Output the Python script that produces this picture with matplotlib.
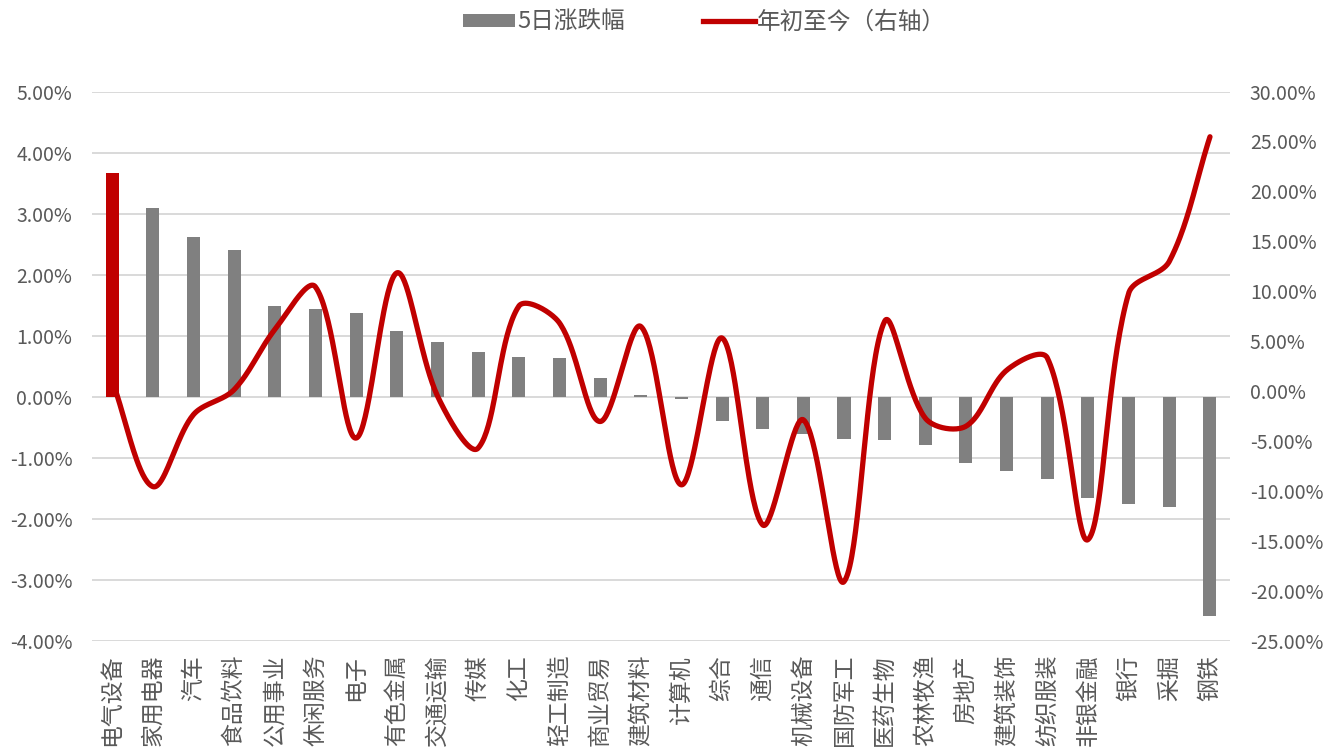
import numpy as np
import matplotlib
matplotlib.use("Agg")
import matplotlib.pyplot as plt
from matplotlib.patches import Patch
from matplotlib.lines import Line2D

plt.rcParams['font.family'] = ['Noto Sans CJK SC', 'DejaVu Sans']

# 申万一级行业
categories = ['电气设备', '家用电器', '汽车', '食品饮料', '公用事业', '休闲服务', '电子',
              '有色金属', '交通运输', '传媒', '化工', '轻工制造', '商业贸易', '建筑材料',
              '计算机', '综合', '通信', '机械设备', '国防军工', '医药生物', '农林牧渔',
              '房地产', '建筑装饰', '纺织服装', '非银金融', '银行', '采掘', '钢铁']

# 5日涨跌幅 (%)
week_change = [3.66, 3.10, 2.61, 2.40, 1.49, 1.44, 1.37, 1.07, 0.90, 0.74, 0.65, 0.63,
               0.31, 0.03, -0.03, -0.40, -0.52, -0.61, -0.69, -0.70, -0.79, -1.09,
               -1.21, -1.35, -1.65, -1.76, -1.80, -3.59]

# 年初至今涨跌幅 (%)
ytd_change = [1.05, -9.54, -2.35, 0.15, 6.16, 10.45, -4.69, 11.84, -0.45, -5.70,
              8.50, 6.85, -3.03, 6.49, -9.37, 5.33, -13.38, -2.86, -19.06, 7.00,
              -2.70, -3.50, 2.10, 3.33, -14.85, 9.80, 13.00, 25.47]

left_ticks = [-4, -3, -2, -1, 0, 1, 2, 3, 4, 5]
right_ticks = [-25, -20, -15, -10, -5, 0, 5, 10, 15, 20, 25, 30]

RED = '#C00000'
GREY = '#808080'
TXT = '#595959'
GRID = '#D9D9D9'


def smooth(ax, xs, ys, steps=40):
    """Bezier smoothing through every point; control arms are weighted by
    the on-screen length of neighbouring segments to avoid overshoot."""
    pts = ax.transData.transform(np.column_stack([xs, ys]))
    n = len(pts)
    d = np.hypot(*np.diff(pts, axis=0).T)
    out_c, in_c = [], []
    for i in range(n):
        prev_p = pts[max(i - 1, 0)]
        next_p = pts[min(i + 1, n - 1)]
        tan = next_p - prev_p
        d0 = d[i - 1] if i > 0 else 0.0
        d1 = d[i] if i < n - 1 else 0.0
        tot = d0 + d1 if d0 + d1 > 0 else 1.0
        out_c.append(pts[i] + tan * d1 / tot / 3.0)
        in_c.append(pts[i] - tan * d0 / tot / 3.0)
    curve = []
    for i in range(n - 1):
        p0, p1 = pts[i], pts[i + 1]
        c1, c2 = out_c[i], in_c[i + 1]
        t = np.linspace(0, 1, steps, endpoint=(i == n - 2))[:, None]
        curve.append((1 - t) ** 3 * p0 + 3 * (1 - t) ** 2 * t * c1
                     + 3 * (1 - t) * t ** 2 * c2 + t ** 3 * p1)
    curve = np.vstack(curve)
    return ax.transData.inverted().transform(curve)


fig = plt.figure(figsize=(13.37, 7.55), dpi=100)
ax = fig.add_axes([0.0686, 0.151, 0.8516, 0.7278])

x = np.arange(len(categories))
colors = [RED] + [GREY] * (len(categories) - 1)
ax.bar(x, week_change, width=0.32, color=colors, zorder=2)

ax.set_xlim(-0.5, len(categories) - 0.5)
ax.set_ylim(-4, 5)
ax.set_yticks(left_ticks)
ax.set_yticklabels([f'{v:.2f}%' for v in left_ticks])
ax.yaxis.grid(True, color=GRID, linewidth=1.4, zorder=0)
ax.set_axisbelow(True)
ax.set_xticks(x)
ax.set_xticklabels(categories, rotation=90, va='top', ha='center', fontsize=16.5, color=TXT)
ax.tick_params(axis='both', length=0)
ax.tick_params(axis='x', pad=10)
ax.tick_params(axis='y', pad=14, labelsize=14, labelcolor=TXT)
for s in ax.spines.values():
    s.set_visible(False)

ax2 = ax.twinx()
ax2.set_xlim(-0.5, len(categories) - 0.5)
ax2.set_ylim(-25, 30)
curve = smooth(ax2, x, ytd_change)
ax2.plot(curve[:, 0], curve[:, 1], color=RED, linewidth=3.8, solid_capstyle='round', zorder=3)
ax2.set_ylim(-25, 30)
ax2.set_yticks(right_ticks)
ax2.set_yticklabels([f'{v:.2f}%' for v in right_ticks])
ax2.tick_params(axis='y', length=0, pad=14, labelsize=14, labelcolor=TXT)
for s in ax2.spines.values():
    s.set_visible(False)

handles = [Patch(facecolor=GREY, edgecolor='none'),
           Line2D([0], [0], color=RED, linewidth=3.8)]
fig.legend(handles, ['5日涨跌幅', '年初至今（右轴）'], loc='upper center',
           bbox_to_anchor=(0.527, 1.014), ncol=2, frameon=False, fontsize=17,
           handlelength=2.2, handleheight=0.5, handletextpad=0.1, columnspacing=3.3,
           labelcolor=TXT)

fig.savefig('out.png', dpi=100)
